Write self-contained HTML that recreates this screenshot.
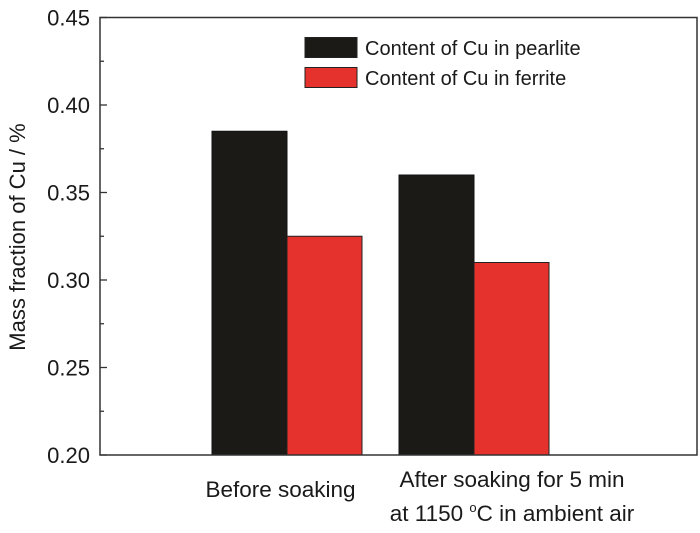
<!DOCTYPE html>
<html><head><meta charset="utf-8"><style>
body{margin:0;background:#fff;width:700px;height:528px;overflow:hidden}
svg text{font-family:"Liberation Sans",Arial,sans-serif;fill:#1a1a1a}
</style></head><body>
<svg width="700" height="528">
<g id="plot"></g>
</svg>
<script>
const categories=["Before soaking","After soaking"];
const pearlite=[0.385,0.360];
const ferrite=[0.325,0.310];
const yTicks=[0.20,0.25,0.30,0.35,0.40,0.45];
const yTickLabels=["0.20","0.25","0.30","0.35","0.40","0.45"];
const L=100,R=697,T=17.5,B=455,ymin=0.20,ymax=0.45;
const y=v=>B-(v-ymin)/(ymax-ymin)*(B-T);
const groupCenter=[287,474];
const bw=75;
const g=document.getElementById('plot');
const NS="http://www.w3.org/2000/svg";
function mk(tag,attrs,txt){const e=document.createElementNS(NS,tag);for(const k in attrs)e.setAttribute(k,attrs[k]);if(txt!==undefined)e.textContent=txt;g.appendChild(e);return e;}
categories.forEach((c,i)=>{
 let e=mk('rect',{x:groupCenter[i]-bw,y:y(pearlite[i]),width:bw,height:B-y(pearlite[i]),fill:'#1b1a17',stroke:'#111','stroke-width':1});
 
 
 e=mk('rect',{x:groupCenter[i],y:y(ferrite[i]),width:bw,height:B-y(ferrite[i]),fill:'#e5322c',stroke:'#222','stroke-width':1});
 
 
});
let fr=mk('rect',{x:L,y:T,width:R-L,height:B-T,fill:'none',stroke:'#333','stroke-width':1.5});


yTicks.forEach((v,i)=>{
 const t=mk('line',{x1:L,x2:L+7,y1:y(v),y2:y(v),stroke:'#333','stroke-width':1.3});
 
 
 const lb=mk('text',{x:90,y:y(v)+8,'text-anchor':'end','font-size':22},yTickLabels[i]);
 
 
 if(i<yTicks.length-1){
  const m=mk('line',{x1:L,x2:L+4,y1:y(v+0.025),y2:y(v+0.025),stroke:'#333','stroke-width':1.3});
  
  
 }
});
let yt=mk('text',{x:0,y:0,'text-anchor':'middle','font-size':22,transform:'translate(25,237) rotate(-90)'},'Mass fraction of Cu / %');


let x1=mk('text',{x:280.5,y:497,'text-anchor':'middle','font-size':22.5},'Before soaking');


let x2=mk('text',{x:512,y:487,'text-anchor':'middle','font-size':22.5},'After soaking for 5 min');


let x3=mk('text',{x:512,y:521,'text-anchor':'middle','font-size':22.5});
x3.innerHTML='at 1150 <tspan dy="-9" font-size="13">o</tspan><tspan dy="9">C in ambient air</tspan>';


const legItems=[["Content of Cu in pearlite","#1b1a17"],["Content of Cu in ferrite","#e5322c"]];
legItems.forEach((it,i)=>{
 const r=mk('rect',{x:305,y:37.5+i*30,width:52,height:20,fill:it[1],stroke:'#222','stroke-width':1});
 
 
 const t=mk('text',{x:365,y:55+i*30,'font-size':20},it[0]);
 
 
});
</script>
</body></html>
